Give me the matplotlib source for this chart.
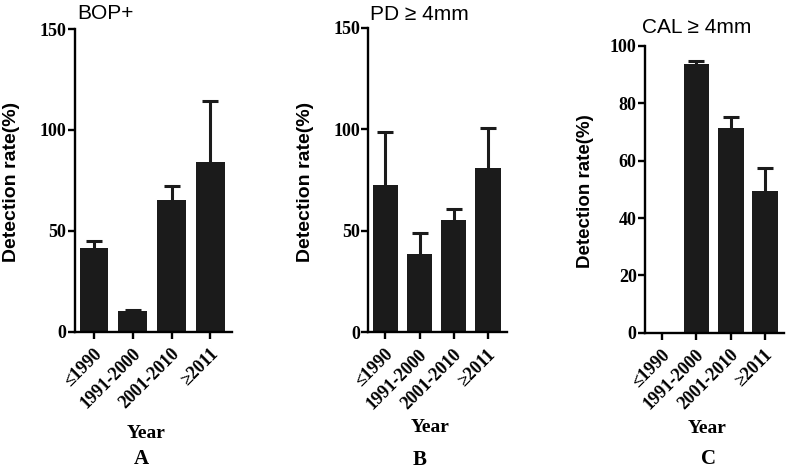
import numpy as np
import matplotlib
matplotlib.use('Agg')
import matplotlib.pyplot as plt
from matplotlib.transforms import ScaledTranslation

# data
years = ['≤1990', '1991-2000', '2001-2010', '≥2011']
bop_mean = [41.3, 10.4, 65.3, 84.3]
bop_top = [45.1, 10.8, 72.4, 114.4]   # mean + error
pd_mean = [72.5, 38.6, 55.3, 81.1]
pd_top = [98.8, 48.8, 60.6, 100.5]
cal_mean = [0.0, 93.7, 71.5, 49.4]
cal_top = [0.0, 94.9, 75.3, 57.3]

W, H = 787, 471
SERIF = ['Liberation Serif', 'DejaVu Serif']
SANS = ['Liberation Sans', 'DejaVu Sans']
BAR = '#1b1b1b'


def px(x, y):
    """pixel position (from top left) -> figure fraction"""
    return x / W, 1 - y / H


def draw_panel(fig, rect, means, tops, ymax, ystep, title, title_xy, ylab_xy, year_xy, letter, letter_xy,
               ylab_size=14):
    ax = fig.add_axes(rect)
    x = np.arange(len(years))
    ax.bar(x, means, width=0.74, color=BAR, zorder=2)
    means = np.array(means)
    tops = np.array(tops)
    keep = tops > 0
    _, caps, _ = ax.errorbar(x[keep], means[keep], yerr=[np.zeros(keep.sum()), (tops - means)[keep]],
                             fmt='none', ecolor=BAR, elinewidth=2.2, capsize=5.8, capthick=2.2, zorder=1)
    caps[0].set_visible(False)  # only the upper cap is drawn
    ax.set_xlim(-0.5, 3.55)
    ax.set_ylim(0, ymax)
    ax.set_yticks(np.arange(0, ymax + 1, ystep))
    ax.set_xticks(x)
    ax.set_xticklabels(years, rotation=45, ha='right', va='center', rotation_mode='anchor')
    for s in ['top', 'right']:
        ax.spines[s].set_visible(False)
    for s in ['left', 'bottom']:
        ax.spines[s].set_linewidth(1.7)
    ax.tick_params(direction='out', length=5, width=1.7, pad=1)
    ax.tick_params(axis='x', pad=9)
    shift = ScaledTranslation(5 / 100, 0, fig.dpi_scale_trans)
    for lab in ax.get_xticklabels():
        lab.set_transform(lab.get_transform() + shift)
    for lab in ax.get_yticklabels() + ax.get_xticklabels():
        lab.set_family(SERIF)
        lab.set_fontweight('bold')
        lab.set_fontsize(13)
    fig.text(*px(*title_xy), title, family=SANS, fontsize=15, ha='left', va='baseline')
    fig.text(*px(*ylab_xy), 'Detection rate(%)', family=SANS, fontweight='bold', fontsize=ylab_size,
             rotation=90, ha='center', va='center')
    fig.text(*px(*year_xy), 'Year', family=SERIF, fontweight='bold', fontsize=14, ha='center', va='baseline')
    fig.text(*px(*letter_xy), letter, family=SERIF, fontweight='bold', fontsize=15, ha='center', va='baseline')
    return ax


fig = plt.figure(figsize=(W / 100, H / 100), dpi=100)

draw_panel(fig, [74.5 / W, 1 - 331.7 / H, 157.2 / W, 302.6 / H], bop_mean, bop_top, 150, 50,
           'BOP+', (77, 19), (12, 182), (146, 438), 'A', (141, 464))
draw_panel(fig, [368.3 / W, 1 - 332.3 / H, 138.4 / W, 304.5 / H], pd_mean, pd_top, 150, 50,
           'PD ≥ 4mm', (370, 20), (305, 182), (430, 432), 'B', (420, 465))
draw_panel(fig, [645 / W, 1 - 332.7 / H, 139 / W, 286.7 / H], cal_mean, cal_top, 100, 20,
           'CAL ≥ 4mm', (642, 33), (585, 191), (707, 433), 'C', (708, 464), ylab_size=13.5)

fig.savefig('out.png', dpi=100)
